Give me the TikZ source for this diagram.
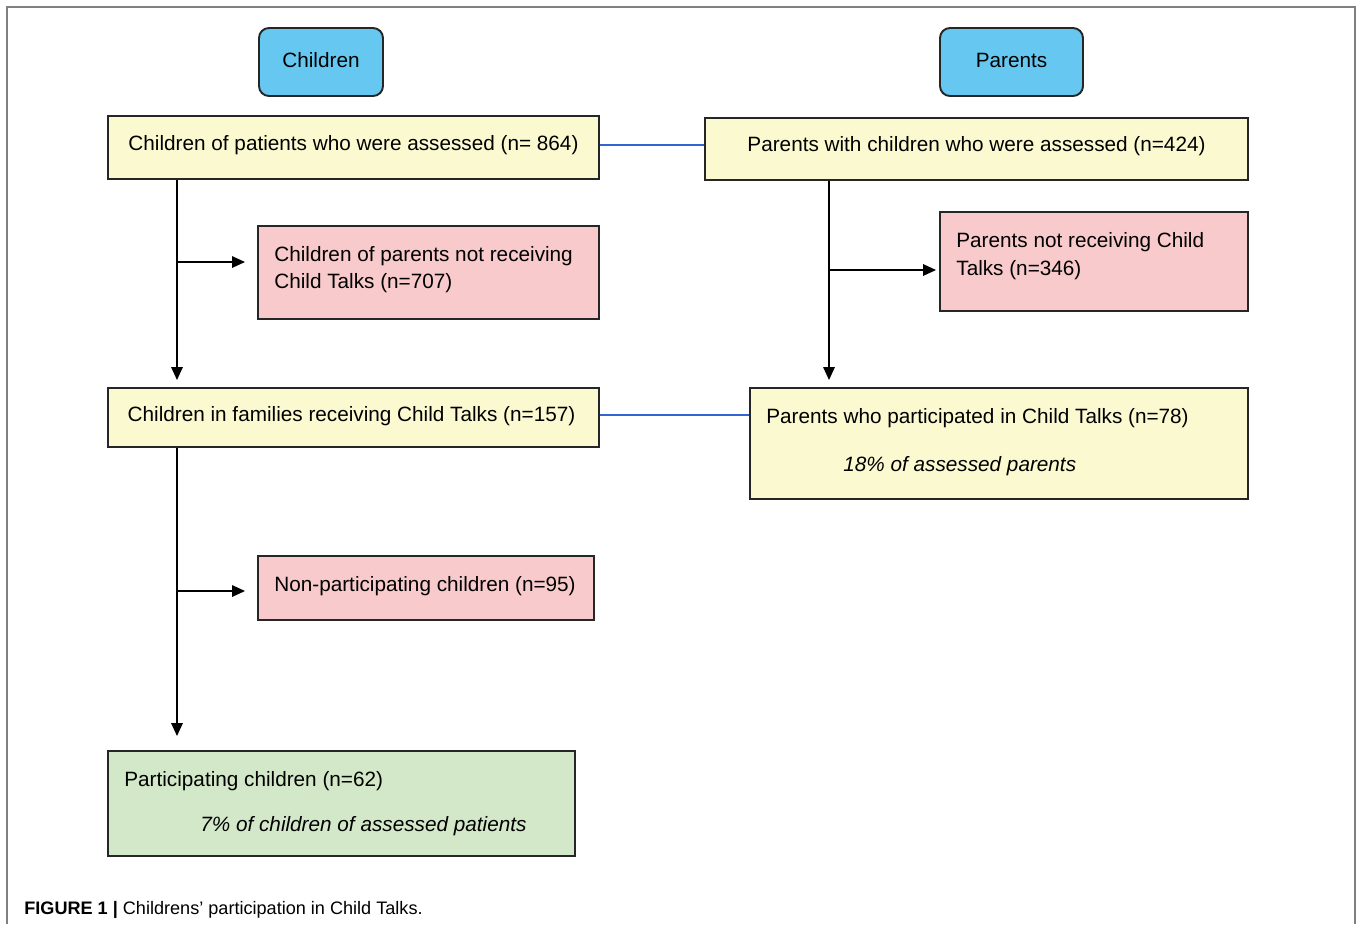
\documentclass[tikz,border=0pt]{standalone}
\usepackage{fontspec}
\setmainfont{Liberation Sans}
\usetikzlibrary{arrows.meta,calc}
\definecolor{hdrblue}{HTML}{66C8F0}
\definecolor{boxyellow}{HTML}{FBF9D0}
\definecolor{boxpink}{HTML}{F8CACB}
\definecolor{boxgreen}{HTML}{D3E8C9}
\definecolor{linkblue}{RGB}{50,100,210}
\definecolor{framegray}{HTML}{808080}
\begin{document}
\begin{tikzpicture}[x=0.02cm,y=-0.02cm,
  boxbase/.style 2 args={draw=black!85, line width=1.1pt, inner sep=0pt, minimum width={#1*0.02cm}, minimum height={#2*0.02cm}},
  hdr/.style 2 args={boxbase={#1}{#2}, fill=hdrblue, rounded corners=0.2cm},
  ybox/.style 2 args={boxbase={#1}{#2}, fill=boxyellow},
  pbox/.style 2 args={boxbase={#1}{#2}, fill=boxpink},
  gbox/.style 2 args={boxbase={#1}{#2}, fill=boxgreen},
  txt/.style={inner sep=0pt, font=\fontsize{11.8}{14}\selectfont},
  txtl/.style={txt, anchor=base west},
  arr/.style={draw=black, line width=0.9pt, -{Triangle[length=0.26cm,width=0.23cm]}},
  bluelink/.style={color=linkblue, line width=1.3pt},
]
\useasboundingbox (0,0) rectangle (1358,924);
\fill[white] (0,0) rectangle (1358,924);
\draw[framegray, line width=0.8pt] (7,924) -- (7,7) -- (1355,7) -- (1355,924);

% blue links (drawn first, boxes on top)
\coordinate (lA) at (599,145);
\coordinate (lB) at (705,145);
\coordinate (lC) at (599,415);
\coordinate (lD) at (750,415);

% headers
\node[hdr={124}{68}] (hC) at (321,62) {};
\node[txt] (hCt) at (321,60) {Children};
\node[hdr={143}{68}] (hP) at (1011.5,62) {};
\node[txt] (hPt) at (1011.5,60) {Parents};

% boxes
\node[ybox={491}{63}] (C1) at (353.5,147.5) {};
\node[txt] (C1t) at (353.5,145) {Children of patients who were assessed (n= 864)};
\node[ybox={543}{62}] (P1) at (976.5,149) {};
\node[txt] (P1t) at (976.5,146) {Parents with children who were assessed (n=424)};

\node[pbox={341}{93}] (C2) at (428.5,272.5) {};
\node[txtl] (C2a) at (274,261) {Children of parents not receiving};
\node[txtl] (C2b) at (274,288) {Child Talks (n=707)};

\node[pbox={308}{99}] (P2) at (1094,261.5) {};
\node[txtl] (P2a) at (956,247) {Parents not receiving Child};
\node[txtl] (P2b) at (956,275) {Talks (n=346)};

\node[ybox={491}{59}] (C3) at (353.5,417.5) {};
\node[txt] (C3t) at (351.5,416) {Children in families receiving Child Talks (n=157)};

\node[ybox={498}{111}] (P3) at (999,443.5) {};
\node[txtl] (P3a) at (766,423) {Parents who participated in Child Talks (n=78)};
\node[txtl] (P3b) at (843,471) {\itshape 18\% of assessed parents};

\node[pbox={336}{64}] (C4) at (426,588) {};
\node[txtl] (C4t) at (274,591) {Non-participating children (n=95)};

\node[gbox={467}{105}] (C5) at (341.5,803.5) {};
\node[txtl] (C5a) at (124,786) {Participating children (n=62)};
\node[txtl] (C5b) at (200,831) {\itshape 7\% of children of assessed patients};

% trunk and branch coordinates
\coordinate (tL) at (177,0);
\coordinate (tR) at (829,0);
\coordinate (bC2) at ($(C2.west)+(0,-10.5)$);
\coordinate (bP2) at ($(P2.west)+(0,8.5)$);
\coordinate (bC4) at ($(C4.west)+(0,3)$);

% connectors
\draw[arr, shorten >=0.14cm] (C1.south -| tL) -- (C3.north -| tL);
\draw[arr, shorten >=0.24cm] (bC2 -| tL) -- (bC2);
\draw[arr, shorten >=0.14cm] (P1.south -| tR) -- (P3.north -| tR);
\draw[arr, shorten >=0.06cm] (bP2 -| tR) -- (bP2);
\draw[arr, shorten >=0.28cm] (C3.south -| tL) -- (C5.north -| tL);
\draw[arr, shorten >=0.24cm] (bC4 -| tL) -- (bC4);

\draw[bluelink] (lA -| C1.east) -- (lB -| P1.west);
\draw[bluelink] (lC -| C3.east) -- (lD -| P3.west);

% caption
\node[anchor=base west, inner sep=0pt, font=\fontsize{10.3}{12}\selectfont] (cap) at (24,914) {\textbf{FIGURE 1 |} Childrens’ participation in Child Talks.};
\end{tikzpicture}
\end{document}
